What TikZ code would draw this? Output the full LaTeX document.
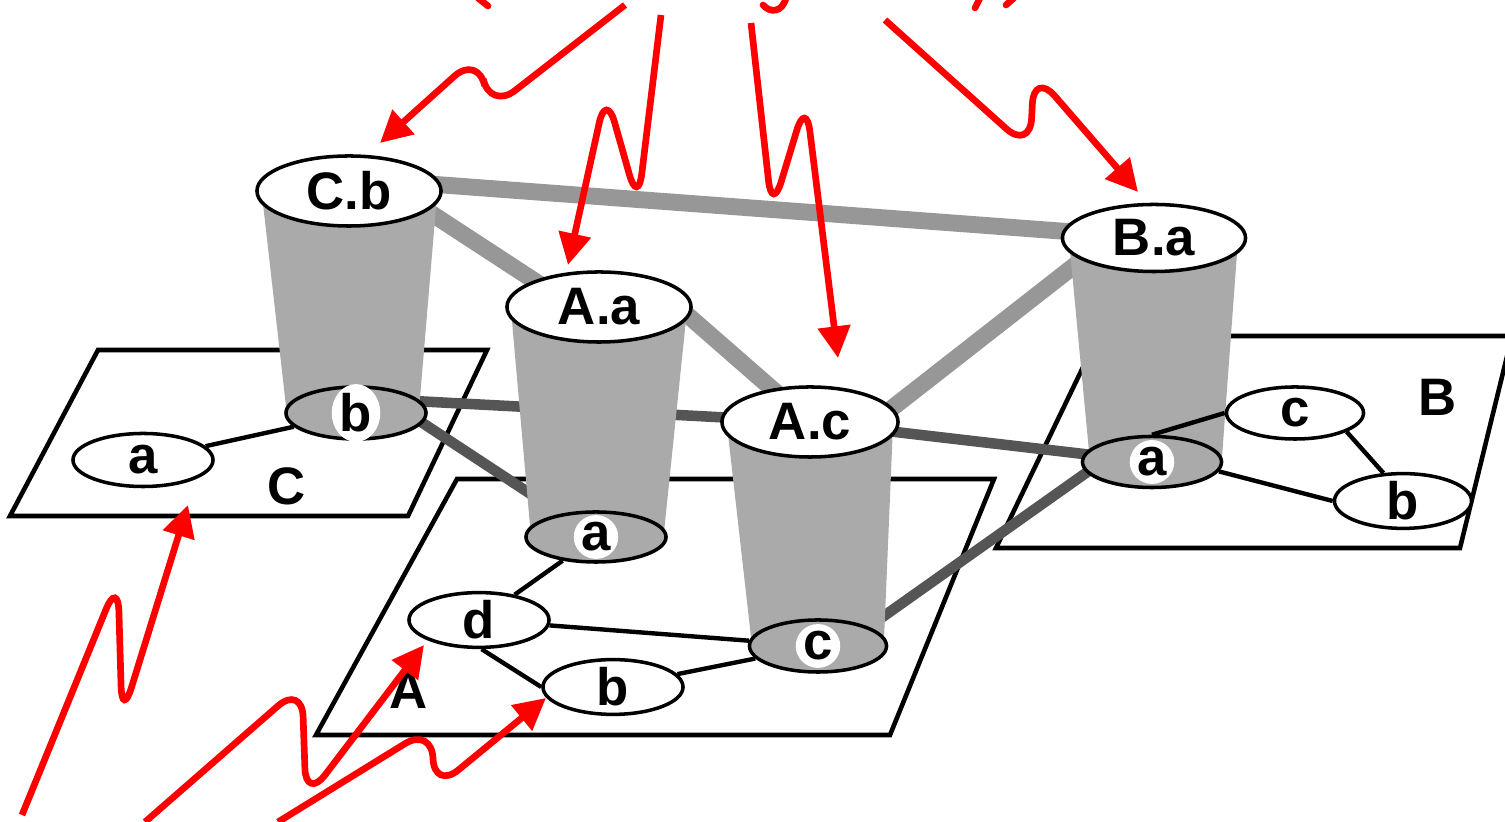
\documentclass[tikz,border=0pt]{standalone}
\usepackage{fontspec}
\setmainfont{Liberation Sans}
\usetikzlibrary{shapes.geometric,arrows.meta,calc}
\definecolor{cylgray}{HTML}{AAAAAA}
\definecolor{hilink}{HTML}{979797}
\definecolor{lolink}{HTML}{555555}
\definecolor{redarr}{HTML}{FF0000}
\newcommand\labfont{\fontsize{15pt}{16pt}\selectfont\bfseries}
\pgfdeclarelayer{planelayer}
\pgfdeclarelayer{linklayer}
\pgfdeclarelayer{cyllayer}
\pgfsetlayers{planelayer,linklayer,cyllayer,main}
\tikzset{
  plane/.style={draw=black, line width=1.3pt, fill=white, line join=miter},
  topell/.style={ellipse, draw=black, line width=1pt, fill=white, minimum width=1.84cm, minimum height=0.70cm, inner sep=0pt, font=\labfont},
  botell/.style={ellipse, draw=black, line width=1pt, fill=cylgray, minimum width=1.40cm, minimum height=0.52cm, inner sep=0pt},
  halo/.style={ellipse, fill=white, inner sep=0.3pt, font=\labfont},
  leaf/.style={ellipse, draw=black, line width=1pt, fill=white, minimum width=1.40cm, minimum height=0.53cm, inner sep=0pt, font=\labfont},
  planelbl/.style={font=\labfont, inner sep=0pt},
  planeedge/.style={draw=black, line width=1.25pt},
  lowlink/.style={draw=lolink, line width=3pt},
  highlink/.style={draw=hilink, line width=4.8pt},
  cylbody/.style={fill=cylgray},
  redarrow/.style={draw=redarr, line width=1.9pt, rounded corners=9pt, -{Triangle[length=9pt,width=9pt]}},
  redfrag/.style={draw=redarr, line width=1.9pt, line cap=round},
}
\begin{document}
\begin{tikzpicture}[x=0.01cm,y=-0.01cm]
\useasboundingbox (0,0) rectangle (1505,822);
\clip (0,0) rectangle (1505,822);

% ---------- planes ----------
\begin{pgfonlayer}{planelayer}
\fill[white] (0,0) rectangle (1505,822);
\draw[plane] (98,350) -- (487,350) -- (408,516) -- (10,516) -- cycle;
\draw[plane] (457,479) -- (994,479) -- (890,735) -- (316,735) -- cycle;
\draw[plane] (1098,336) -- (1512,336) -- (1460,548) -- (996,548) -- cycle;
\end{pgfonlayer}

% ---------- nodes ----------
% top ellipses
\node[topell] (Cbt) at (349,191) {C.b};
\node[topell] (Aat) at (599,307) {A.a};
\node[topell, minimum width=1.76cm] (Act) at (810,422) {A.c};
\node[topell, minimum width=1.83cm, minimum height=0.67cm] (Bat) at (1154,238) {B.a};
% bottom ellipses
\node[botell] (Cbb) at (356,413) {};
\node[halo] (Cbbl) at (Cbb) {b};
\node[botell, minimum height=0.50cm] (Aab) at (596,537) {};
\node[halo] (Aabl) at (Aab) {a};
\node[botell, minimum width=1.37cm] (Acb) at (818,646) {};
\node[halo] (Acbl) at (Acb) {c};
\node[botell, minimum width=1.39cm, minimum height=0.51cm] (Bab) at (1152,462) {};
\node[halo] (Babl) at (Bab) {a};
% leaves
\node[leaf] (Ca) at (143,460) {a};
\node[leaf, minimum height=0.51cm] (Ad) at (479,620) {d};
\node[leaf] (Ab) at (613,687) {b};
\node[leaf, minimum width=1.37cm, minimum height=0.52cm] (Bc) at (1295,413) {c};
\node[leaf, minimum width=1.37cm, minimum height=0.52cm] (Bb) at (1403,501) {b};
% plane labels
\node[planelbl] (labC) at (287,486) {C};
\node[planelbl] (labA) at (409,690) {A};
\node[planelbl] (labB) at (1438,397) {B};

% ---------- links ----------
\begin{pgfonlayer}{linklayer}
% upper (light) links
\draw[highlink] ($(Cbt)+(0,-13)$) -- (Bat.center);
\draw[highlink] ($(Cbt)+(51,2)$) -- ($(Aat)+(0,16)$);
\draw[highlink] ($(Aat)+(61,-16)$) -- (Act.center);
\draw[highlink] ($(Act)+(40,19)$) -- ($(Bat)+(-34,-8)$);
% lower (dark) links
\draw[lowlink] ($(Cbb)+(1,-15)$) -- (Act.center);
\draw[lowlink] (Act.center) -- (Bab.center);
\draw[lowlink] ($(Cbb)+(24,-18)$) -- (Aab.center);
\draw[lowlink] ($(Acb)+(42,-13)$) -- ($(Bab)+(-52,1)$);
\end{pgfonlayer}

% ---------- cylinder bodies ----------
\begin{pgfonlayer}{cyllayer}
\fill[cylbody] (262,195) -- (437,195) -- (419,410) -- (287,415) -- cycle;
\fill[cylbody] (511,310) -- (687,310) -- (664,532) -- (531,537) -- cycle;
\fill[cylbody] (727,425) -- (893,425) -- (884,640) -- (752,646) -- cycle;
\fill[cylbody] (1069,240) -- (1238,240) -- (1222,457) -- (1090,462) -- cycle;
\end{pgfonlayer}

% ---------- edges inside planes ----------
\draw[planeedge] (Ca) -- (Cbb);
\draw[planeedge] (Aab) -- (Ad);
\draw[planeedge] (Ad) -- (Acb);
\draw[planeedge] (Ad.-85) -- (Ab.west);
\draw[planeedge] (Ab) -- (Acb);
\draw[planeedge] (Bab.north) -- (Bc.west);
\draw[planeedge] (Bc.-20) -- (Bb.125);
\draw[planeedge] (Bab.-8) -- (Bb.west);

% ---------- red arrows ----------
\coordinate (r1s) at (625,5);    \coordinate (r1e) at (380,143);
\coordinate (r2s) at (661,15);   \coordinate (r2e) at (568,265);
\coordinate (r3s) at (751,23);   \coordinate (r3e) at (838,358);
\coordinate (r4s) at (885,20);   \coordinate (r4e) at (1138,192);
\coordinate (r5s) at (22,815);   \coordinate (r5e) at (188,505);
\coordinate (r6s) at (145,822);  \coordinate (r6e) at (424,645);
\coordinate (r7s) at (278,822);  \coordinate (r7e) at (546,698);
\draw[redarrow] (r1s) -- (490,110) -- (478,55) -- (r1e);
\draw[redarrow] (r2s) -- (638,205) -- (606,92) -- (r2e);
\draw[redarrow] (r3s) -- (772,212) -- (806,100) -- (r3e);
\draw[redarrow] (r4s) -- (1030,150) -- (1034,72) -- (r4e);
\draw[redarrow] (r5s) -- (118,580) -- (122,718) -- (r5e);
\draw[redarrow] (r6s) -- (302,685) -- (306,800) -- (r6e);
\draw[redarrow] (r7s) -- (432,727) -- (434,790) -- (r7e);
% clipped fragments of the red caption above
\draw[redfrag] (478,-2) -- (488,6);
\draw[redfrag] (763,5) .. controls (770,13) and (782,13) .. (786,-2);
\draw[redfrag] (980,-2) -- (975,8);
\draw[redfrag] (1014,-2) -- (1006,5);
\end{tikzpicture}
\end{document}
